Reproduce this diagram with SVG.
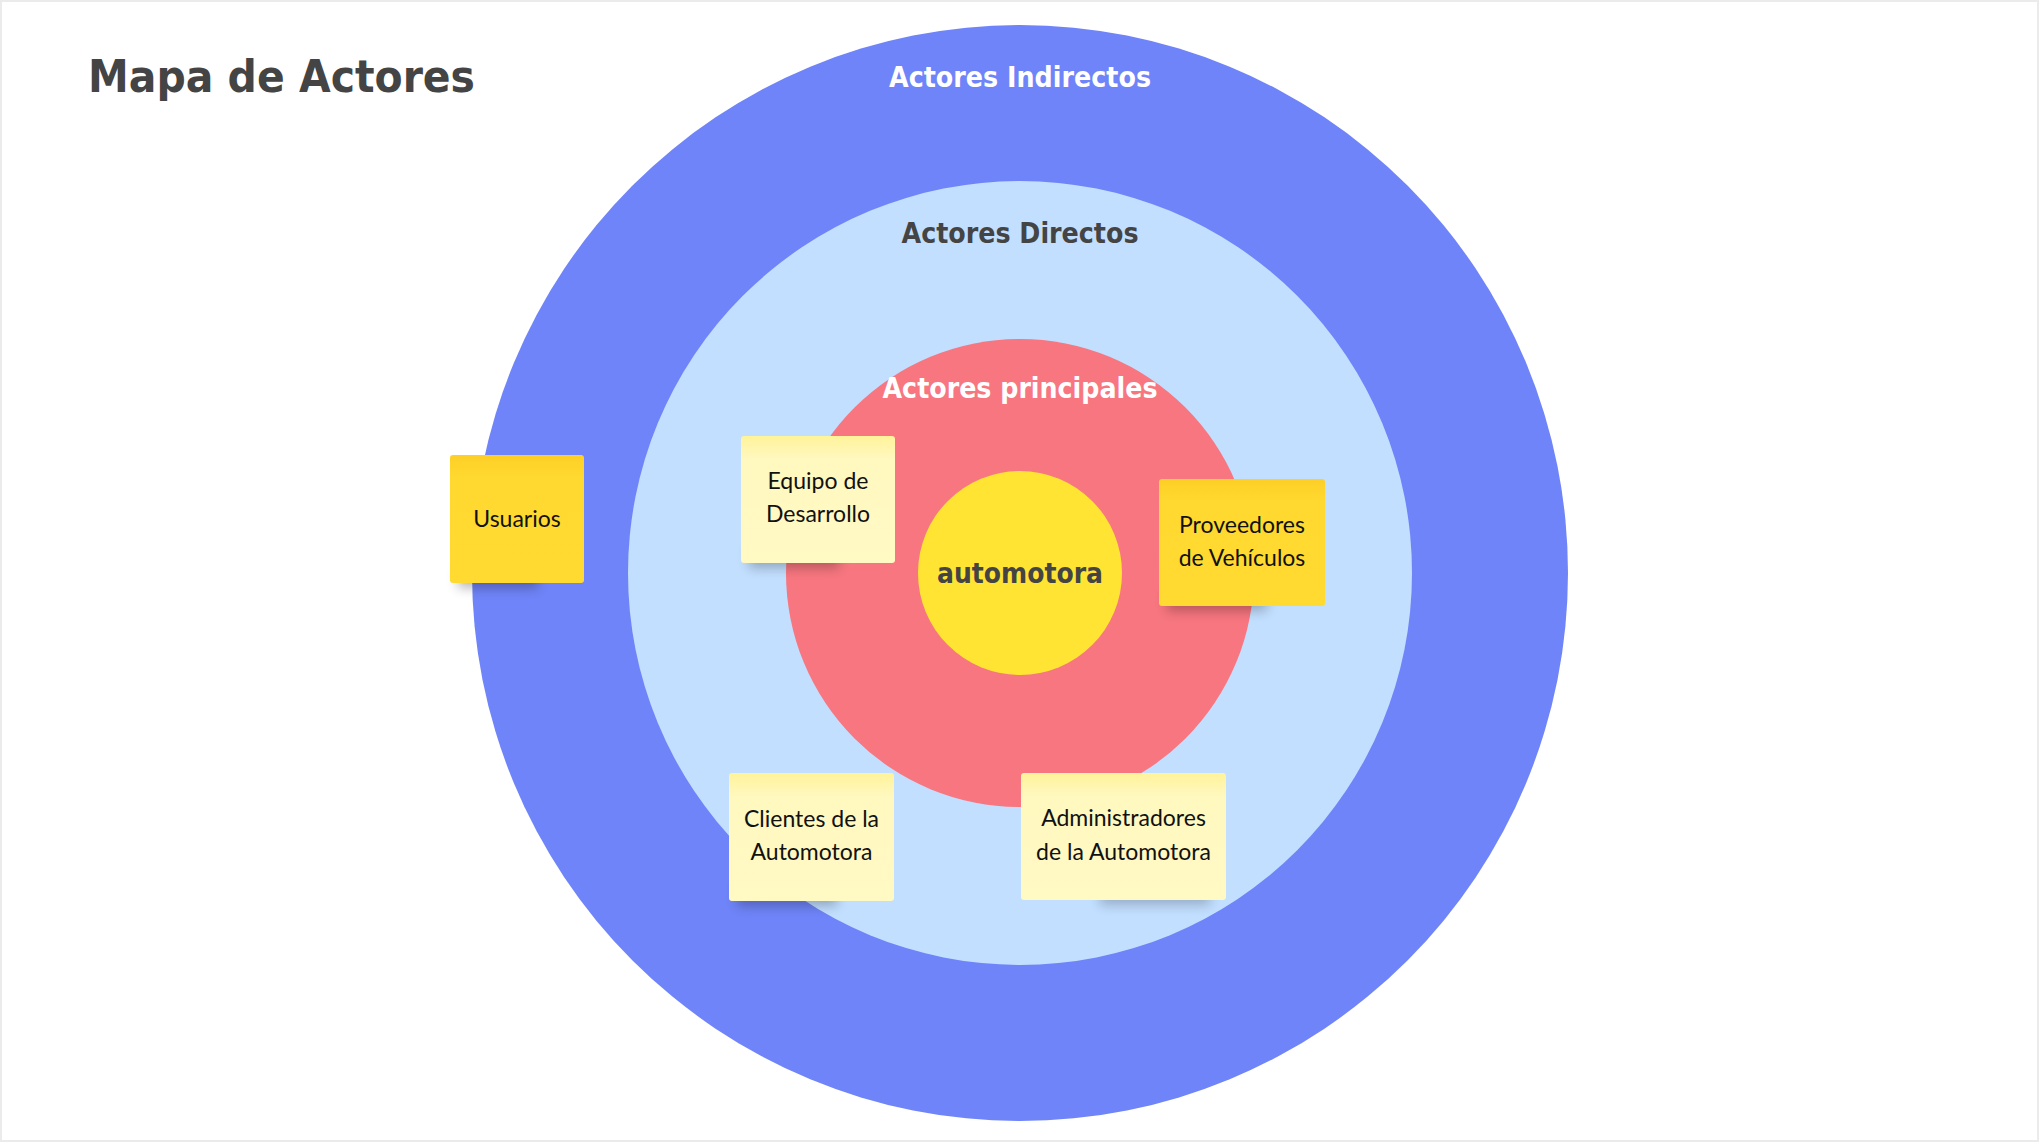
<svg xmlns="http://www.w3.org/2000/svg" width="2040" height="1142" viewBox="0 0 2040 1142">
<style>
.head{font-family:"DejaVu Sans","Liberation Sans",sans-serif;font-weight:bold;text-anchor:middle}
.note{font-family:"Lato","Liberation Sans",sans-serif;font-size:23px;fill:#111;text-anchor:middle}
</style>
<defs>
<linearGradient id="gLight" x1="0" y1="0" x2="0" y2="1">
<stop offset="0" stop-color="#FFF39A"/><stop offset="0.18" stop-color="#FFF8BF"/><stop offset="1" stop-color="#FFF9C4"/>
</linearGradient>
<linearGradient id="gDark" x1="0" y1="0" x2="0" y2="1">
<stop offset="0" stop-color="#FDCF27"/><stop offset="0.18" stop-color="#FFD92F"/><stop offset="1" stop-color="#FFDA30"/>
</linearGradient>
<filter id="sh" x="-50%" y="-100%" width="200%" height="300%"><feGaussianBlur stdDeviation="6"/></filter>
</defs>
<rect x="1" y="1" width="2037" height="1140" fill="#fff" stroke="#ebebeb" stroke-width="2"/>
<g id="title"><text class="head" x="88" y="92" font-size="45" fill="#444" style="text-anchor:start" textLength="387" lengthAdjust="spacingAndGlyphs">Mapa de Actores</text></g>
<g id="ring-indirectos"><circle cx="1020" cy="573" r="548" fill="#6F84F8"/>
<text class="head" x="1020" y="87" font-size="28" fill="#fff" textLength="262" lengthAdjust="spacingAndGlyphs">Actores Indirectos</text></g>
<g id="ring-directos"><circle cx="1020" cy="573" r="392" fill="#C2DFFF"/>
<text class="head" x="1020" y="243" font-size="28" fill="#444" textLength="237" lengthAdjust="spacingAndGlyphs">Actores Directos</text></g>
<g id="ring-principales"><circle cx="1020" cy="573" r="234" fill="#F7767F"/>
<text class="head" x="1020" y="398" font-size="28" fill="#fff" textLength="275" lengthAdjust="spacingAndGlyphs">Actores principales</text></g>
<g id="center"><circle cx="1020" cy="573" r="102" fill="#FFE433"/>
<text class="head" x="1020" y="583" font-size="29" fill="#444" textLength="166" lengthAdjust="spacingAndGlyphs">automotora</text></g>
<g id="usuarios">
<rect x="458" y="566" width="80" height="22" fill="#000" opacity="0.28" filter="url(#sh)"/>
<rect x="450" y="455" width="134" height="128" rx="3" fill="url(#gDark)"/>
<text class="note" x="517" y="527" font-size="24">Usuarios</text></g>
<g id="equipo">
<rect x="749" y="546" width="90" height="22" fill="#000" opacity="0.25" filter="url(#sh)"/>
<rect x="741" y="436" width="154" height="127" rx="3" fill="url(#gLight)"/>
<text class="note" x="818" y="489">Equipo de</text><text class="note" x="818" y="522">Desarrollo</text></g>
<g id="proveedores">
<rect x="1167" y="589" width="100" height="22" fill="#000" opacity="0.25" filter="url(#sh)"/>
<rect x="1159" y="479" width="166" height="127" rx="3" fill="url(#gDark)"/>
<text class="note" x="1242" y="533">Proveedores</text><text class="note" x="1242" y="566">de Vehículos</text></g>
<g id="clientes">
<rect x="737" y="884" width="100" height="22" fill="#000" opacity="0.25" filter="url(#sh)"/>
<rect x="729" y="773" width="165" height="128" rx="3" fill="url(#gLight)"/>
<text class="note" x="811.5" y="827">Clientes de la</text><text class="note" x="811.5" y="860">Automotora</text></g>
<g id="administradores">
<rect x="1100" y="883" width="110" height="22" fill="#000" opacity="0.22" filter="url(#sh)"/>
<rect x="1021" y="773" width="205" height="127" rx="3" fill="url(#gLight)"/>
<text class="note" x="1123.5" y="826">Administradores</text><text class="note" x="1123.5" y="860">de la Automotora</text></g>
<g id="connectors"/>
</svg>
